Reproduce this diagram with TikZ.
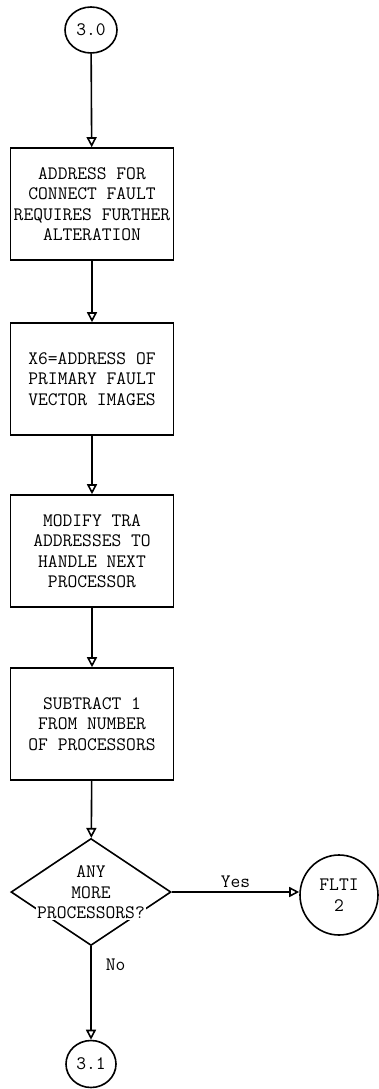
\documentclass[tikz,border=0pt]{standalone}
\usepackage{tikz}
\usetikzlibrary{shapes.geometric, arrows.meta, positioning}

\begin{document}
\begin{tikzpicture}[
  x=1pt, y=-1pt,
  txt/.style={font=\ttfamily\fontsize{19}{20.5}\selectfont},
  procbox/.style={txt, rectangle, draw, line width=1.6pt, minimum width=163pt, minimum height=112pt, inner sep=0pt, align=center},
  conn/.style={txt, ellipse, draw, line width=1.6pt, inner sep=0pt, align=center},
  decision/.style={diamond, draw, line width=1.6pt, minimum width=160pt, minimum height=107pt, inner sep=0pt},
  arr/.style={-{Triangle[open, length=10pt, width=10pt]}, line width=1.6pt}
]
\useasboundingbox (0,0) rectangle (379,1089);

\node[conn, minimum width=52pt, minimum height=46pt] (c30) at (91,30) {3.0};
\node[procbox] (addr) at (92,204) {ADDRESS FOR\\CONNECT FAULT\\REQUIRES FURTHER\\ALTERATION};
\node[procbox] (xsix) at (92,379) {X6=ADDRESS OF\\PRIMARY FAULT\\VECTOR IMAGES};
\node[procbox] (modify) at (92,551) {MODIFY TRA\\ADDRESSES TO\\HANDLE NEXT\\PROCESSOR};
\node[procbox] (subtr) at (92,724) {SUBTRACT 1\\FROM NUMBER\\OF PROCESSORS};

\node[decision] (more) at (91,892) {};
\node[txt, align=center, inner sep=0pt] (moretop) at (91,882) {ANY\\MORE};
\node[txt, fill=white, inner sep=1pt] (morebot) at (91,913) {PROCESSORS?};

\node[conn, minimum width=78pt, minimum height=80pt] (flti) at (339,895) {FLTI\\2};
\node[conn, minimum width=50pt, minimum height=47pt] (c31) at (91,1064) {3.1};

\draw[arr] (c30) -- (addr);
\draw[arr] (addr) -- (xsix);
\draw[arr] (xsix) -- (modify);
\draw[arr] (modify) -- (subtr);
\draw[arr] (subtr) -- (more);
\draw[arr] (more.east) -- node[txt, above=4pt, inner sep=0pt] (yes) {Yes} (flti.west |- more.east);
\draw[arr] (more.south) -- node[txt, right=14pt, pos=0.2, inner sep=0pt] (no) {No} (c31);
\end{tikzpicture}
\end{document}
